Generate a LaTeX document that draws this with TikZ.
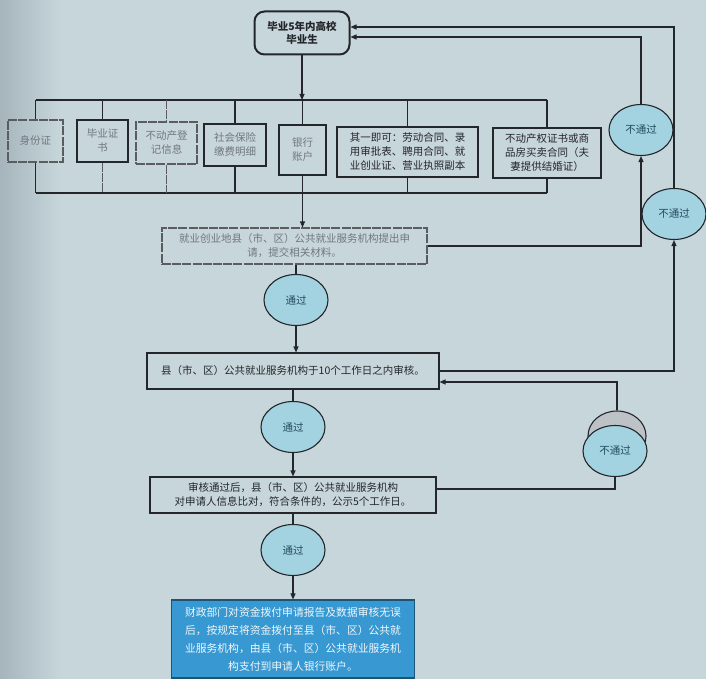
\documentclass[tikz,border=0pt]{standalone}
\usepackage{fontspec}
\setmainfont{Noto Sans CJK SC}
\usepackage{tikz}
\usetikzlibrary{arrows.meta,shapes.geometric}

\definecolor{paper}{RGB}{199,214,219}
\definecolor{paperdark}{RGB}{165,181,187}
\definecolor{ink}{RGB}{35,38,42}
\definecolor{faded}{RGB}{112,120,126}
\definecolor{bubblefill}{RGB}{163,210,224}
\definecolor{bubbletext}{RGB}{35,75,95}
\definecolor{shadowgray}{RGB}{188,194,198}
\definecolor{payblue}{RGB}{55,152,210}

\begin{document}
\begin{tikzpicture}[x=1pt,y=-1pt,color=ink,line width=1.1pt,
  >={Triangle[length=6pt,width=5pt]},
  doc/.style={draw,minimum height=42pt,inner sep=1pt,align=center,text=faded,
    font=\fontsize{10.5}{14}\selectfont},
  tallbox/.style={doc,minimum height=50pt},
  fadedline/.style={draw=ink!75,dash pattern=on 9pt off 1.2pt},
  procbox/.style={draw,minimum height=36pt,inner sep=2pt,align=center,
    font=\fontsize{10.5}{14}\selectfont},
  bubble/.style={ellipse,draw,fill=bubblefill,minimum width=64pt,minimum height=51pt,
    inner sep=0pt,text=bubbletext,font=\fontsize{10.5}{12}\selectfont}
]
  \useasboundingbox (0,0) rectangle (706,679);
  \fill[paper] (0,0) rectangle (706,679);
  \shade[left color=paperdark,right color=paper] (0,0) rectangle (60,679);

  % applicant
  \node[draw,line width=2pt,rounded corners=10pt,minimum width=95pt,minimum height=43pt,
    align=center,font=\fontsize{10.5}{13}\selectfont\bfseries] (start) at (302,33) {毕业5年内高校\\毕业生};

  % documents
  \node[doc,fadedline,minimum width=55pt] (idcard) at (35.5,141) {身份证};
  \node[doc,minimum width=51pt] (diploma) at (102.5,141) {毕业证\\书};
  \node[doc,fadedline,minimum width=61pt] (estate) at (166.5,143) {不动产登\\记信息};
  \node[doc,minimum width=62pt] (insurance) at (235,145) {社会保险\\缴费明细};
  \node[tallbox,minimum width=47pt] (bank) at (302.5,150) {银行\\账户};
  \node[tallbox,text=ink,minimum width=141pt] (contract) at (407.5,152)
    {其一即可：劳动合同、录\\用审批表、聘用合同、就\\业创业证、营业执照副本};
  \node[tallbox,text=ink,minimum width=108pt] (deed) at (547,153)
    {不动产权证书或商\\品房买卖合同（夫\\妻提供结婚证）};

  \coordinate (topbar) at (0,100);
  \coordinate (botbar) at (0,193);
  \draw (idcard.north |- topbar) -- (deed.north |- topbar);
  \draw (idcard.south |- botbar) -- (deed.south |- botbar);
  \foreach \b in {idcard,insurance,contract,deed} {
    \draw (\b.north |- topbar) -- (\b.north);
    \draw (\b.south) -- (\b.south |- botbar);
  }
  \draw (diploma.north |- topbar) -- (diploma.north);
  \draw[fadedline] (diploma.south) -- (diploma.south |- botbar);
  \draw[fadedline] (estate.north |- topbar) -- (estate.north);
  \draw[fadedline] (estate.south) -- (estate.south |- botbar);
  \draw (bank.north |- topbar) -- (bank.north);
  \draw[->] (start.south) -- (start.south |- topbar);

  % main steps
  \node[procbox,fadedline,text=faded,minimum width=265pt] (apply) at (294.5,246)
    {就业创业地县（市、区）公共就业服务机构提出申\\请，提交相关材料。};
  \node[procbox,minimum width=292pt] (review) at (293,371)
    {县（市、区）公共就业服务机构于10个工作日之内审核。};
  \node[procbox,minimum width=286pt] (publish) at (293,495)
    {审核通过后，县（市、区）公共就业服务机构\\对申请人信息比对，符合条件的，公示5个工作日。};
  \node[procbox,fill=payblue,draw=payblue!55!black,text=white!92!payblue,minimum width=243pt,
    minimum height=78pt,font=\fontsize{10.8}{18}\selectfont] (pay) at (293,639)
    {财政部门对资金拨付申请报告及数据审核无误\\后，按规定将资金拨付至县（市、区）公共就\\业服务机构，由县（市、区）公共就业服务机\\构支付到申请人银行账户。};

  \node[bubble] (pass1) at (296,300) {通过};
  \node[bubble] (pass2) at (293,427) {通过};
  \node[bubble] (pass3) at (293,550) {通过};
  \node[bubble] (fail1) at (641,130) {不通过};
  \node[bubble] (fail2) at (674,214) {不通过};
  \node[bubble,fill=shadowgray,minimum width=58pt,minimum height=50pt] (fail3back) at (617,436) {};
  \node[bubble] (fail3) at (615,451) {不通过};

  \draw[->] (bank.south) -- (bank.south |- apply.north);
  \draw (pass1.north |- apply.south) -- (pass1.north);
  \draw[->] (pass1.south) -- (pass1.south |- review.north);
  \draw (review.south) -- (pass2.north);
  \draw[->] (pass2.south) -- (publish.north);
  \draw (publish.south) -- (pass3.north);
  \draw[->] (pass3.south) -- (pay.north);

  % returns
  \draw[->] (apply.east) -| (fail1.south);
  \draw[->] (fail1.north) |- ([yshift=-4pt]start.east);
  \draw[->] (review.east) -| (fail2.south);
  \draw[->] (fail2.north) |- ([yshift=6pt]start.east);
  \draw[->] (fail3back.north) |- ([yshift=-11pt]review.east);
  \draw (fail3.south) |- ([yshift=6pt]publish.east);
\end{tikzpicture}
\end{document}
